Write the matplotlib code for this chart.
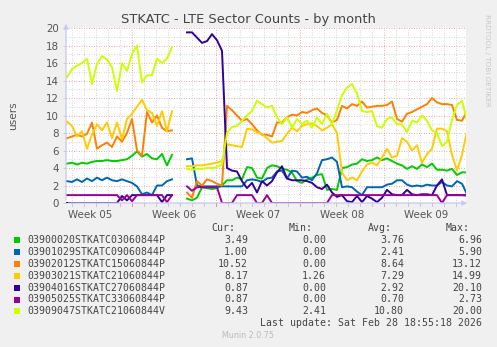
import numpy as np
import matplotlib
matplotlib.use('Agg')
import matplotlib.pyplot as plt

nan = np.nan

# samples every 10 hours across the 33 day window (hours from left edge)
hours = np.arange(81) * 10 + 2

green = [4.5, 4.6, 4.4, 4.6, 4.5, 4.7, 4.8, 4.8, 4.9, 4.8, 4.8, 4.9, 5.0, 5.4, 5.9, 5.3, 5.6, 5.1, 5.0, 5.6,
         4.3, 5.5, nan, nan, 0.5, 0.3, 0.6, 1.8, 1.7, 1.6, 1.7, 2.0, 2.6, 2.6, 2.9, 2.7, 4.1, 4.0, 2.9, 2.8,
         4.0, 4.3, 4.2, 3.9, 3.8, 3.5, 2.5, 2.3, 2.7, 2.9, 3.2, 3.3, 1.5, 1.6, 1.5, 4.0, 4.1, 4.4, 4.5, 5.0,
         4.8, 4.9, 5.2, 4.9, 5.1, 4.8, 4.5, 4.3, 3.9, 4.2, 3.9, 4.4, 4.1, 4.5, 3.8, 3.8, 3.7, 3.9, 3.2, 3.5,
         3.5]
blue = [2.5, 2.4, 2.7, 2.4, 2.8, 2.5, 2.9, 2.6, 2.9, 2.6, 2.5, 2.7, 2.5, 2.3, 1.9, 1.0, 1.2, 0.9, 2.0, 2.0,
        2.5, 2.7, nan, nan, 5.0, 5.1, 2.0, 1.9, 1.9, 1.9, 1.9, 1.9, 1.9, 1.9, 1.9, 1.9, 2.6, 2.7, 2.6, 2.4,
        2.8, 2.9, 3.6, 3.7, 2.8, 3.7, 3.6, 2.9, 3.0, 2.6, 3.4, 4.9, 5.0, 5.2, 4.7, 1.8, 1.9, 1.8, 1.3, 0.9,
        1.8, 1.8, 1.8, 1.8, 2.1, 2.2, 2.6, 2.6, 2.1, 1.9, 2.0, 1.9, 2.1, 2.0, 2.0, 2.4, 2.0, 1.9, 2.5, 2.2,
        1.0]
orange = [7.4, 7.6, 7.8, 7.6, 7.9, 9.2, 6.2, 6.6, 6.9, 6.4, 7.6, 7.0, 8.0, 9.6, 6.0, 5.4, 10.4, 9.2, 10.0, 8.6,
          8.2, 8.3, nan, nan, 1.2, 0.6, 2.5, 2.0, 2.7, 2.5, 2.2, 2.0, 11.1, 10.6, 10.0, 9.4, 9.6, 9.0, 8.3, 7.8,
          7.8, 7.6, 9.2, 9.2, 9.8, 10.1, 10.0, 10.4, 10.3, 10.6, 10.8, 10.3, 10.0, 9.2, 9.5, 11.1, 10.8, 11.3, 11.1, 11.6,
          10.9, 11.0, 11.1, 11.1, 11.2, 11.6, 9.6, 9.3, 10.2, 10.4, 10.7, 11.0, 11.3, 12.0, 11.5, 11.3, 11.3, 11.2, 9.5, 9.4,
          10.5]
yellow = [9.3, 8.8, 7.6, 8.2, 6.2, 7.8, 9.0, 8.3, 9.2, 7.4, 9.2, 7.3, 9.6, 10.2, 11.0, 11.8, 10.6, 10.3, 8.8, 10.5,
          8.2, 10.5, nan, nan, 4.2, 4.2, 4.3, 4.3, 4.4, 4.5, 4.6, 4.8, 6.7, 6.6, 6.5, 6.4, 8.5, 8.4, 8.1, 7.9,
          7.4, 6.9, 7.0, 7.1, 7.9, 8.6, 8.2, 8.8, 9.0, 9.1, 8.8, 8.3, 8.6, 9.0, 8.0, 3.5, 2.6, 2.9, 2.6, 3.6,
          4.4, 4.6, 4.3, 5.2, 6.2, 5.2, 5.4, 7.4, 7.0, 6.0, 6.6, 4.6, 5.6, 6.2, 8.5, 8.5, 8.2, 5.5, 3.7, 5.5,
          8.2]
indigo = [0.0, 0.0, 0.0, 0.0, 0.0, 0.0, 0.0, 0.0, 0.0, 0.0, 0.0, 0.8, 0.3, 0.9, 0.9, 0.9, 0.9, 0.9, 0.9, 0.1,
          0.9, 0.9, nan, nan, 19.5, 19.5, 18.9, 18.3, 18.5, 19.3, 18.6, 17.4, 4.0, 3.7, 3.6, 2.5, 1.7, 2.3, 1.2, 2.5,
          2.0, 2.5, 3.5, 4.2, 2.8, 2.6, 2.6, 2.6, 2.5, 2.3, 1.8, 1.6, 2.1, 1.2, 0.7, 0.9, 0.2, 0.1, 0.8, 0.1,
          0.8, 0.5, 0.1, 0.6, 1.5, 1.0, 0.9, 0.9, 1.5, 1.0, 0.9, 1.0, 1.0, 0.9, 2.0, 2.7, 0.9, 0.9, 0.9, 0.9,
          0.87]
magenta = [0.9, 0.9, 0.9, 0.9, 0.9, 0.9, 0.9, 0.9, 0.9, 0.9, 0.9, 0.3, 0.9, 0.2, 0.9, 0.9, 0.9, 0.9, 0.9, 0.9,
           0.1, 0.9, nan, nan, 1.9, 1.4, 1.8, 1.8, 1.8, 1.8, 1.8, 0.0, 0.0, 0.0, 0.9, 0.9, 0.9, 0.9, 0.0, 0.0,
           0.9, 0.0, 0.0, 0.0, 0.0, 0.0, 0.0, 0.0, 0.0, 0.0, 0.0, 0.0, 0.0, 0.9, 0.9, 0.9, 0.9, 0.9, 0.9, 0.9,
           0.9, 0.9, 0.9, 0.9, 0.9, 0.9, 0.9, 0.9, 0.9, 0.9, 0.9, 0.9, 0.9, 0.9, 0.9, 0.0, 0.9, 0.9, 0.9, 0.9,
           0.87]
lime = [14.4, 15.3, 15.7, 16.0, 16.5, 13.6, 15.9, 16.8, 16.4, 15.5, 12.8, 16.0, 15.1, 17.0, 18.0, 13.8, 14.6, 14.6, 16.5, 16.0,
        16.5, 17.8, nan, nan, 3.9, 3.8, 3.9, 3.9, 4.0, 4.0, 4.1, 4.4, 8.0, 8.7, 8.8, 9.4, 10.0, 10.5, 11.7, 11.3,
        10.9, 11.1, 9.8, 9.0, 9.8, 8.6, 9.6, 9.0, 9.4, 8.6, 9.8, 9.0, 10.2, 9.0, 10.6, 12.3, 13.2, 13.6, 12.5, 10.5,
        10.4, 10.5, 8.8, 8.6, 9.6, 9.8, 9.0, 9.0, 8.1, 9.4, 9.2, 10.0, 9.4, 8.3, 8.0, 6.5, 7.0, 9.5, 11.2, 11.7,
        9.4]

names = ['03900020STKATC03060844P', '03901029STKATC09060844P', '03902012STKATC15060844P',
         '03903021STKATC21060844P', '03904016STKATC27060844P', '03905025STKATC33060844P',
         '03909047STKATC21060844V']
colors = ['#00CC00', '#0066B3', '#FF8000', '#FFCC00', '#330099', '#990099', '#CCFF00']
cur = ['3.49', '1.00', '10.52', '8.17', '0.87', '0.87', '9.43']
mins = ['0.00', '0.00', '0.00', '1.26', '0.00', '0.00', '2.41']
avgs = ['3.76', '2.41', '8.64', '7.29', '2.92', '0.70', '10.80']
maxs = ['6.96', '5.90', '13.12', '14.99', '20.10', '2.73', '20.00']
week_labels = ['Week 05', 'Week 06', 'Week 07', 'Week 08', 'Week 09']
week_starts = [132, 300, 468, 636]  # hours from left edge

W, H = 497, 347
fig = plt.figure(figsize=(W / 100, H / 100), dpi=100, facecolor='#F0F0F0')
ax = fig.add_axes([66 / W, 1 - 203 / H, 400 / W, 175 / H])
ax.set_facecolor('white')
for s in ax.spines.values():
    s.set_visible(False)

# grid
for v in range(1, 21):
    if v % 2:
        ax.axhline(v, color='#C8C8C8', lw=0.6, ls=(0, (1, 2)), zorder=1)
    else:
        ax.axhline(v, color='#E09090', lw=0.6, ls=(0, (1, 2)), zorder=1)
for h in range(12, 800, 24):
    if h in week_starts:
        ax.axvline(h, color='#E09090', lw=0.6, ls=(0, (1, 2)), zorder=1)
    else:
        ax.axvline(h, color='#C8C8C8', lw=0.6, ls=(0, (1, 2)), zorder=1)

series = [green, blue, orange, yellow, indigo, magenta, lime]
for vals, c in zip(series, colors):
    ax.plot(hours, vals, color=c, lw=1.4, zorder=3)

ax.set_xlim(0, 800)
ax.set_ylim(0, 20)

# axis lines with arrows
ax.annotate('', xy=(808, 0), xytext=(0, 0), xycoords='data',
            arrowprops=dict(arrowstyle='-|>', color='#C8C8F0', lw=0.9, mutation_scale=7),
            annotation_clip=False, zorder=4)
ax.annotate('', xy=(0, 20.8), xytext=(0, 0), xycoords='data',
            arrowprops=dict(arrowstyle='-|>', color='#C8C8F0', lw=0.9, mutation_scale=7),
            annotation_clip=False, zorder=4)

ax.set_yticks(range(0, 21, 2))
ax.set_yticklabels([str(v) for v in range(0, 21, 2)])
ax.tick_params(axis='y', length=2, width=0.6, color='#C8C8C8', pad=3, labelsize=7.4, labelcolor='#555555')
ax.set_xticks([48, 216, 384, 552, 720])
ax.set_xticklabels(week_labels)
ax.tick_params(axis='x', length=0, pad=5, labelsize=7.4, labelcolor='#555555')
for h in range(12, 800, 24):
    c = '#E09090' if h in week_starts else '#C8C8C8'
    ax.plot([h, h], [0, -0.35], color=c, lw=0.7, clip_on=False, zorder=2)

ax.set_ylabel('users', fontsize=7.6, color='#555555', labelpad=20)

def fx(x):
    return x / W

def fy(y):
    return 1 - y / H

fig.text(fx(248), fy(19), 'STKATC - LTE Sector Counts - by month', ha='center', va='center',
         fontsize=9.4, color='#444444')
fig.text(fx(487), fy(14), 'RRDTOOL / TOBI OETIKER', ha='center', va='top', rotation=270,
         fontsize=5.2, color='#C8C8C8')

mono = 'DejaVu Sans Mono'
fs = 7.1
tc = '#444444'
hdr_y = 228
for xr, lab in zip([235, 313, 392, 470], ['Cur:', 'Min:', 'Avg:', 'Max:']):
    fig.text(fx(xr), fy(hdr_y), lab, ha='right', va='center', family=mono, fontsize=fs, color=tc)

for k in range(len(names)):
    y = 240 + 11.9 * k
    fig.patches.append(plt.Rectangle((fx(14), fy(y + 3)), 6 / W, 6 / H, transform=fig.transFigure,
                                     facecolor=colors[k], edgecolor='none'))
    fig.text(fx(27), fy(y), names[k], ha='left', va='center', family=mono, fontsize=fs, color=tc)
    for xr, val in zip([248, 326, 404, 482], [cur[k], mins[k], avgs[k], maxs[k]]):
        fig.text(fx(xr), fy(y), val, ha='right', va='center', family=mono, fontsize=fs, color=tc)

fig.text(fx(482), fy(323.5), 'Last update: Sat Feb 28 18:55:18 2026', ha='right', va='center',
         family=mono, fontsize=fs, color=tc)
fig.text(fx(248), fy(336), 'Munin 2.0.75', ha='center', va='center', fontsize=5.8, color='#BBBBBB')

fig.savefig('out.png', dpi=100, facecolor=fig.get_facecolor())
